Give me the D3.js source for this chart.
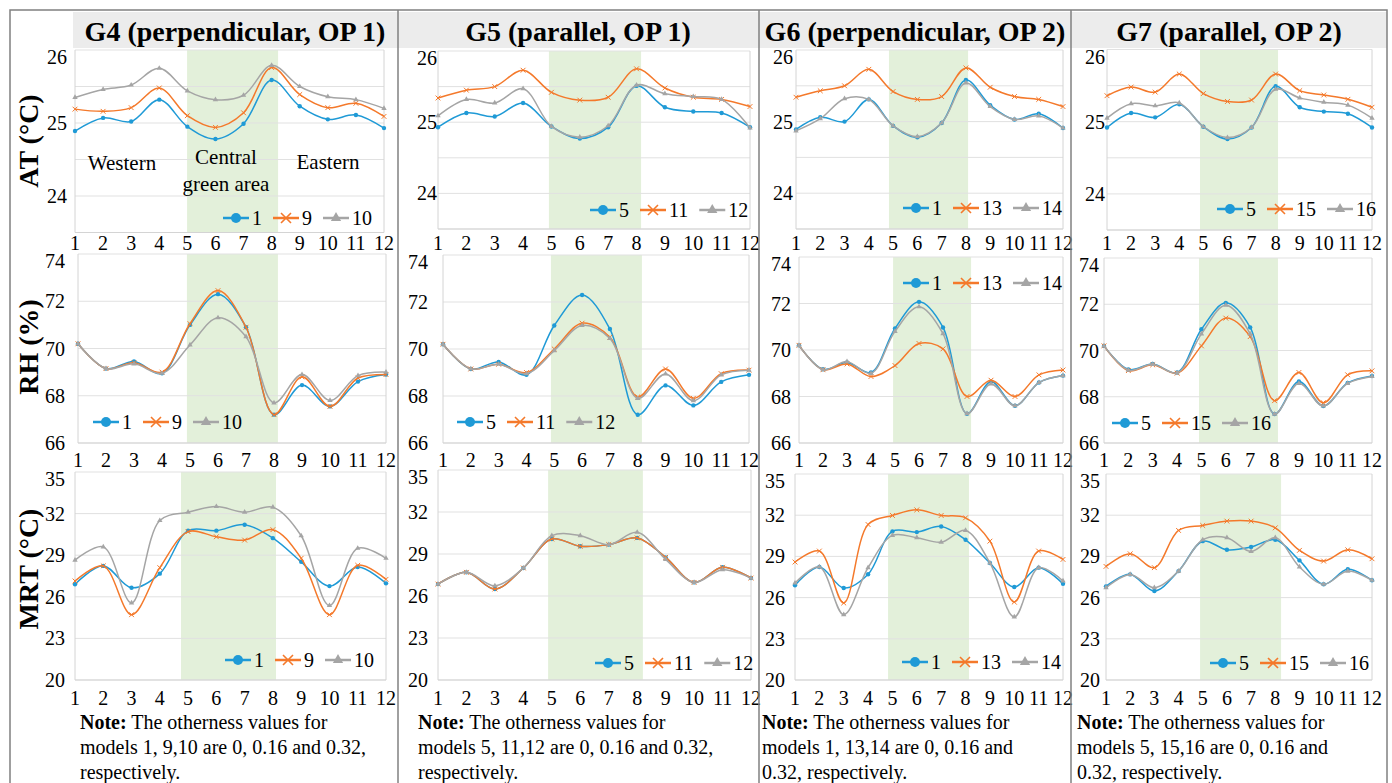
<!DOCTYPE html>
<html><head><meta charset="utf-8">
<script src="https://cdn.jsdelivr.net/npm/d3@7"></script>
<style>
body{margin:0;background:#fff;}
svg{display:block;}
text{font-family:"Liberation Serif","Times New Roman",serif;fill:#000;}
</style>
</head><body>
<svg id="c" width="1392" height="783"></svg>
<script>
// ---------------- DATA ----------------
const categories = [1,2,3,4,5,6,7,8,9,10,11,12];
const groupTitles = ["G4 (perpendicular, OP 1)","G5 (parallel, OP 1)","G6 (perpendicular, OP 2)","G7 (parallel, OP 2)"];
const variableLabels = ["AT (°C)","RH (%)","MRT (°C)"];
const seriesNames = [["1","9","10"],["5","11","12"],["1","13","14"],["5","15","16"]];

const atTickLabels = [24,25,26];
const atGridValues = [23.5,24,24.5,25,25.5,26];
const rhTickLabels = [66,68,70,72,74];
const mrtTickLabels = [20,23,26,29,32,35];

// AT (°C)
const at_G4_1  = [24.89,25.07,25.02,25.32,24.95,24.78,24.99,25.59,25.23,25.05,25.11,24.93];
const at_G4_9  = [25.19,25.16,25.21,25.48,25.10,24.94,25.14,25.76,25.39,25.21,25.27,25.09];
const at_G4_10 = [25.35,25.46,25.52,25.75,25.44,25.32,25.38,25.79,25.50,25.36,25.32,25.20];
const at_G5_5  = [24.93,25.13,25.08,25.27,24.94,24.77,24.93,25.51,25.21,25.15,25.13,24.93];
const at_G5_11 = [25.34,25.45,25.50,25.73,25.42,25.31,25.35,25.75,25.48,25.35,25.32,25.22];
const at_G5_12 = [25.09,25.32,25.27,25.47,24.94,24.79,24.95,25.52,25.40,25.36,25.32,24.92];
const at_G6_1  = [24.89,25.06,25.00,25.31,24.94,24.78,24.98,25.58,25.23,25.03,25.11,24.91];
const at_G6_13 = [25.34,25.43,25.50,25.73,25.42,25.31,25.35,25.75,25.48,25.35,25.31,25.21];
const at_G6_14 = [24.87,25.04,25.32,25.31,24.94,24.79,24.98,25.54,25.21,25.03,25.08,24.91];
const at_G7_5  = [24.92,25.12,25.06,25.24,24.93,24.76,24.92,25.49,25.20,25.14,25.11,24.92];
const at_G7_15 = [25.36,25.48,25.41,25.66,25.39,25.28,25.30,25.66,25.43,25.37,25.31,25.20];
const at_G7_16 = [25.05,25.25,25.22,25.26,24.93,24.78,24.92,25.45,25.33,25.27,25.23,25.05];

// RH (%)
const rh_G4_1  = [70.2,69.15,69.45,68.95,71.0,72.3,70.9,67.2,68.45,67.55,68.6,68.9];
const rh_G4_9  = [70.2,69.15,69.4,69.0,71.05,72.45,70.9,67.2,68.8,67.55,68.75,68.9];
const rh_G4_10 = [70.2,69.15,69.35,68.95,70.15,71.3,70.5,67.7,68.9,67.8,68.85,69.0];
const rh_G5_5  = [70.2,69.15,69.45,68.9,71.0,72.3,70.85,67.2,68.45,67.6,68.6,68.9];
const rh_G5_11 = [70.2,69.15,69.35,69.0,70.0,71.1,70.5,67.96,69.15,67.9,68.95,69.1];
const rh_G5_12 = [70.2,69.15,69.35,68.95,69.93,71.0,70.45,67.9,68.94,67.8,68.9,69.1];
const rh_G6_1  = [70.2,69.17,69.46,69.03,70.93,72.07,70.97,67.26,68.64,67.6,68.6,68.9];
const rh_G6_13 = [70.2,69.15,69.4,68.86,69.33,70.28,70.05,68.0,68.7,68.0,68.93,69.14];
const rh_G6_14 = [70.2,69.15,69.5,69.0,70.8,71.86,70.7,67.26,68.54,67.6,68.6,68.9];
const rh_G7_5  = [70.2,69.18,69.42,69.05,70.92,72.06,71.0,67.25,68.66,67.6,68.6,68.9];
const rh_G7_15 = [70.2,69.13,69.38,69.02,70.2,71.4,70.6,67.83,69.05,67.74,68.95,69.12];
const rh_G7_16 = [70.2,69.15,69.4,69.03,70.72,71.96,70.72,67.25,68.58,67.6,68.58,68.88];

// MRT (°C)
const mrt_G4_1  = [26.9,28.23,26.65,27.67,30.77,30.77,31.2,30.23,28.52,26.77,28.15,26.97];
const mrt_G4_9  = [27.14,28.23,24.71,28.1,30.7,30.33,30.09,30.84,28.78,24.71,28.27,27.26];
const mrt_G4_10 = [28.64,29.6,25.56,31.5,32.1,32.51,32.1,32.46,30.4,25.37,29.5,28.78];
const mrt_G5_5  = [26.85,27.69,26.5,28.0,30.07,29.55,29.67,30.15,28.76,26.97,28.05,27.28];
const mrt_G5_11 = [26.85,27.69,26.5,28.0,30.07,29.55,29.67,30.15,28.76,26.97,28.05,27.28];
const mrt_G5_12 = [26.85,27.69,26.73,28.0,30.31,30.31,29.67,30.55,28.62,26.97,27.88,27.28];
const mrt_G6_1  = [26.9,28.23,26.7,27.7,30.82,30.77,31.18,30.21,28.52,26.77,28.18,27.0];
const mrt_G6_13 = [28.59,29.39,25.61,31.32,31.98,32.39,31.98,31.81,30.11,25.68,29.39,28.78];
const mrt_G6_14 = [27.06,28.23,24.76,28.18,30.53,30.36,30.04,30.89,28.52,24.59,28.18,27.21];
const mrt_G7_5  = [26.82,27.69,26.48,27.93,30.11,29.48,29.68,30.21,28.71,26.97,28.06,27.26];
const mrt_G7_15 = [28.27,29.19,28.18,30.89,31.25,31.57,31.57,31.08,29.44,28.66,29.48,28.83];
const mrt_G7_16 = [26.72,27.69,26.72,27.93,30.21,30.36,29.36,30.36,28.23,26.97,27.93,27.26];

// central green area extent (in category units)
const bandAT  = [[4.99,8.23],[4.91,8.16],[4.83,8.09],[4.86,8.10]];
const bandRH  = [[4.89,8.14],[4.88,8.15],[4.92,8.17],[4.90,8.14]];
const bandMRT = [[4.75,8.11],[4.87,8.20],[4.82,8.14],[4.89,8.24]];

const noteLines = [
  ["models 1, 9,10 are 0, 0.16 and 0.32,","respectively."],
  ["models 5, 11,12 are 0, 0.16 and 0.32,","respectively."],
  ["models 1, 13,14 are 0, 0.16 and","0.32, respectively."],
  ["models 5, 15,16 are 0, 0.16 and","0.32, respectively."]
];
const regionLabels = ["Western","Central","green area","Eastern"];

// ---------------- LAYOUT ----------------
const W = 1392, H = 783;
const colors = ["#1f9ad6","#f4792b","#a5a5a5"];
const bandColor = "#e3f0da";
const colSep = [398, 759, 1071];
const colCenters = [235, 578, 915, 1229];
const noteX = [80, 418, 762, 1077];

// plot boxes per column: [x0, x1, yBottom, yTop, labelRight] for each row
const boxes = [
  [[75,384,232.5,50,67],[78,386,443,254,65],[75,386,680,472,65]],
  [[438,750,229,51,437],[443,749,443,255,428],[438,751,680,470,428]],
  [[796,1063,229,50,793],[799,1063,443,257,791],[795,1063,680,474,785]],
  [[1107,1372,230,49.5,1105],[1104,1372,443,258,1099],[1106,1372,680,474,1100]]
];
const xLabelY = [243, 460, 698];
const legendPos = [
  [[223,218],[93,422],[225,660]],
  [[590,210],[457,422],[595,663]],
  [[903,208],[903,283],[902,662]],
  [[1217,209],[1112,423],[1210,663]]
];

const dataTable = [
  [[at_G4_1,at_G4_9,at_G4_10],[rh_G4_1,rh_G4_9,rh_G4_10],[mrt_G4_1,mrt_G4_9,mrt_G4_10]],
  [[at_G5_5,at_G5_11,at_G5_12],[rh_G5_5,rh_G5_11,rh_G5_12],[mrt_G5_5,mrt_G5_11,mrt_G5_12]],
  [[at_G6_1,at_G6_13,at_G6_14],[rh_G6_1,rh_G6_13,rh_G6_14],[mrt_G6_1,mrt_G6_13,mrt_G6_14]],
  [[at_G7_5,at_G7_15,at_G7_16],[rh_G7_5,rh_G7_15,rh_G7_16],[mrt_G7_5,mrt_G7_15,mrt_G7_16]]
];
const rowDomains = [[23.5,26],[66,74],[20,35]];
const rowGrid = [atGridValues, rhTickLabels, mrtTickLabels];
const rowTicks = [atTickLabels, rhTickLabels, mrtTickLabels];
const rowBands = [bandAT, bandRH, bandMRT];

const svg = d3.select("#c");

// header band
svg.append("rect").attr("x",73).attr("y",12).attr("width",1314).attr("height",36).attr("fill","#ececec");

function marker(g, k, x, y, s) {
  if (k === 0) {
    g.append("circle").attr("cx",x).attr("cy",y).attr("r",s).attr("fill",colors[0]);
  } else if (k === 1) {
    g.append("path").attr("d",`M${x-s},${y-s}L${x+s},${y+s}M${x-s},${y+s}L${x+s},${y-s}`)
      .attr("stroke",colors[1]).attr("stroke-width",s>3?1.6:1).attr("fill","none");
  } else {
    g.append("path").attr("transform",`translate(${x},${y})`)
      .attr("d",d3.symbol(d3.symbolTriangle, s*s*2.6)()).attr("fill",colors[2]);
  }
}

for (let c = 0; c < 4; c++) {
  for (let r = 0; r < 3; r++) {
    const [x0,x1,yb,yt,lr] = boxes[c][r];
    const x = d3.scaleLinear().domain([1,12]).range([x0,x1]);
    const y = d3.scaleLinear().domain(rowDomains[r]).range([yb,yt]);
    const g = svg.append("g");
    // band
    const band = rowBands[r][c];
    g.append("rect").attr("x",x(band[0])).attr("y",yt).attr("width",x(band[1])-x(band[0])).attr("height",yb-yt).attr("fill",bandColor);
    // gridlines
    g.selectAll(".gl").data(rowGrid[r]).enter().append("line")
      .attr("x1",x0).attr("x2",x1).attr("y1",d=>y(d)).attr("y2",d=>y(d))
      .attr("stroke","#e1e1e1").attr("stroke-width",1);
    // frame
    g.append("line").attr("x1",x0).attr("x2",x0).attr("y1",yt).attr("y2",yb).attr("stroke","#d4d4d4");
    g.append("line").attr("x1",x1).attr("x2",x1).attr("y1",yt).attr("y2",yb).attr("stroke","#d4d4d4");
    g.append("line").attr("x1",x0).attr("x2",x1).attr("y1",yb).attr("y2",yb).attr("stroke","#d4d4d4");
    // y tick labels
    const top = rowDomains[r][1];
    g.selectAll(".yl").data(rowTicks[r]).enter().append("text")
      .attr("x",lr).attr("y",d=>y(d) + (d===top?7:0)).attr("dy","0.35em")
      .attr("text-anchor","end").attr("font-size",20).text(d=>d);
    // x tick labels
    g.selectAll(".xl").data(categories).enter().append("text")
      .attr("x",d=>x(d)).attr("y",xLabelY[r]).attr("dy","0.35em")
      .attr("text-anchor","middle").attr("font-size",20).text(d=>d);
    // lines
    const line = d3.line().x((d,i)=>x(categories[i])).y(d=>y(d)).curve(d3.curveCatmullRom.alpha(0.5));
    dataTable[c][r].forEach((vals,k)=>{
      g.append("path").attr("d",line(vals)).attr("fill","none").attr("stroke",colors[k]).attr("stroke-width",1.5);
      vals.forEach((v,i)=>marker(g,k,x(categories[i]),y(v),k===0?2.2:(k===1?2.4:2.2)));
    });
    // legend
    let [lx,ly] = legendPos[c][r];
    seriesNames[c].forEach((nm,k)=>{
      g.append("line").attr("x1",lx).attr("x2",lx+26).attr("y1",ly).attr("y2",ly).attr("stroke",colors[k]).attr("stroke-width",2.5);
      marker(g,k,lx+13,ly,k===0?5:(k===1?5:4.2));
      const t = g.append("text").attr("x",lx+29).attr("y",ly).attr("dy","0.35em").attr("font-size",20).text(nm);
      lx = lx + 29 + t.node().getComputedTextLength() + 11;
    });
  }
}

// region annotations in G4 AT panel
const ann = [[122,170],[226,164],[226,191],[328,169]];
regionLabels.forEach((t,i)=>{
  svg.append("text").attr("x",ann[i][0]).attr("y",ann[i][1]).attr("text-anchor","middle").attr("font-size",21).text(t);
});

// headers
groupTitles.forEach((t,i)=>{
  svg.append("text").attr("x",colCenters[i]).attr("y",41).attr("text-anchor","middle")
    .attr("font-size",28).attr("font-weight","bold").text(t);
});

// row labels
const rowLabelY = [141, 347, 569];
variableLabels.forEach((t,i)=>{
  svg.append("text").attr("transform",`translate(38,${rowLabelY[i]}) rotate(-90)`)
    .attr("text-anchor","middle").attr("font-size",28).attr("font-weight","bold").text(t);
});

// notes
noteLines.forEach((lines,i)=>{
  const t1 = svg.append("text").attr("x",noteX[i]).attr("y",729).attr("font-size",20);
  t1.append("tspan").attr("font-weight","bold").text("Note:");
  t1.append("tspan").text(" The otherness values for");
  lines.forEach((l,j)=>{
    svg.append("text").attr("x",noteX[i]).attr("y",754+25*j).attr("font-size",20).text(l);
  });
});

// frame and separators
svg.append("rect").attr("x",10).attr("y",10).attr("width",1377).attr("height",790)
  .attr("fill","none").attr("stroke","#808080").attr("stroke-width",1.5);
colSep.forEach(sx=>{
  svg.append("line").attr("x1",sx).attr("x2",sx).attr("y1",10).attr("y2",H)
    .attr("stroke","#808080").attr("stroke-width",1.5);
});
</script>
</body></html>
